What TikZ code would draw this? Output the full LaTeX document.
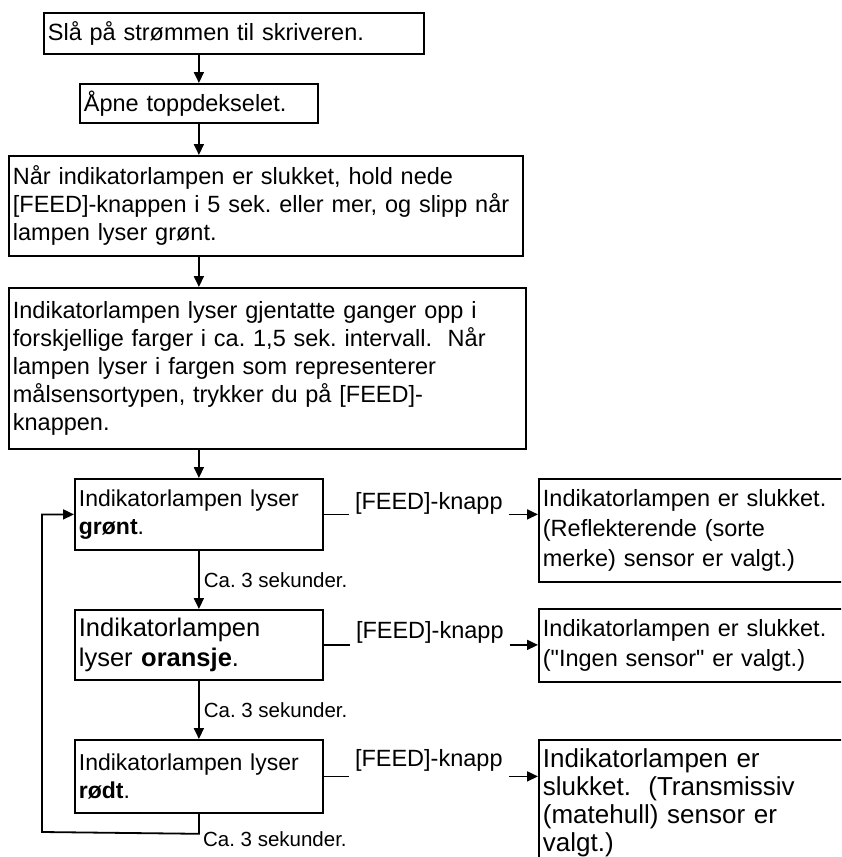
\documentclass[tikz,border=0pt]{standalone}
\usepackage{fontspec}
\setmainfont{Liberation Sans}
\usetikzlibrary{arrows.meta,positioning,calc}
\definecolor{FlowBlack}{HTML}{000000}
\definecolor{FlowWhite}{HTML}{ffffff}
\frenchspacing
\tikzset{
    % Base box style
    stepbox/.style={
        draw=FlowBlack,
        fill=FlowWhite,
        line width=1.8pt,
        anchor=north west,
        align=left,
        inner xsep=4pt,
        inner ysep=0pt,
        font=\fontsize{23.5}{28}\selectfont
    },
    % Lamp state box
    lampnode/.style={
        stepbox,
        text width=240pt,
        font=\fontsize{23}{28}\selectfont
    },
    % Result box
    resultnode/.style={
        stepbox,
        text width=312pt,
        font=\fontsize{23.5}{30}\selectfont
    },
    % Button label
    feedlabel/.style={
        font=\fontsize{23.5}{28}\selectfont,
        inner sep=6pt,
        anchor=base west
    },
    % Delay label
    timelabel/.style={
        font=\fontsize{20.5}{24}\selectfont,
        inner sep=4pt,
        anchor=west
    },
    % Arrow styles
    myarrow/.style={
        -{Triangle[length=11pt,width=10pt]},
        line width=1.8pt,
        draw=FlowBlack
    },
    myline/.style={
        line width=1.8pt,
        draw=FlowBlack
    }
}

\begin{document}
\begin{tikzpicture}[x=1pt,y=-1pt]
    \clip (0,0) rectangle (841,857);

    % main steps
    \node[stepbox, text width=372pt, minimum height=41pt] (power) at (43,12) {Slå på strømmen til skriveren.};
    \node[stepbox, text width=230pt, minimum height=39pt] (cover) at (79,83) {Åpne toppdekselet.};
    \node[stepbox, text width=506pt, minimum height=100pt] (hold) at (8,155) {Når indikatorlampen er slukket, hold nede\\{[FEED]}-knappen i 5 sek. eller mer, og slipp når\\lampen lyser grønt.};
    \node[stepbox, text width=509pt, minimum height=161pt] (cycle) at (8,287) {Indikatorlampen lyser gjentatte ganger opp i\\forskjellige farger i ca. 1,5 sek. intervall.\ \ Når\\lampen lyser i fargen som representerer\\målsensortypen, trykker du på [FEED]-\\knappen.};

    % lamp states
    \node[lampnode, minimum height=71pt] (green) at (74,478) {Indikatorlampen lyser\\\textbf{grønt}.};
    \node[lampnode, minimum height=70pt, font=\fontsize{25.5}{30}\selectfont] (orange) at (74,609) {Indikatorlampen\\lyser \textbf{oransje}.};
    \node[lampnode, minimum height=73pt] (red) at (74,739) {Indikatorlampen lyser\\\textbf{rødt}.};

    % results
    \node[resultnode, minimum height=103pt] (refl) at (538,478) {Indikatorlampen er slukket.\\(Reflekterende (sorte\\merke) sensor er valgt.)};
    \node[resultnode, minimum height=73pt] (none) at (538,608) {Indikatorlampen er slukket.\\(\textquotedbl Ingen sensor\textquotedbl\ er valgt.)};
    \node[resultnode, minimum height=126pt, font=\fontsize{26}{28}\selectfont] (trans) at (538,739) {Indikatorlampen er\\slukket.\ \ (Transmissiv\\(matehull) sensor er\\valgt.)};

    \draw[myarrow] (power.south -| cover.north) -- (cover.north);
    \draw[myarrow] (cover.south) -- (cover.south |- hold.north);
    \draw[myarrow] (hold.south -| cover.south) -- (cover.south |- cycle.north);
    \draw[myarrow] (cycle.south -| green.north) -- (green.north);
    \draw[myarrow] (green.south) -- node[timelabel] (wait1) {Ca. 3 sekunder.} (orange.north);
    \draw[myarrow] (orange.south) -- node[timelabel] (wait2) {Ca. 3 sekunder.} (red.north);

    % back to green
    \coordinate (turn) at ([yshift=-20pt]red.south);
    \coordinate (back) at (42,832);
    \draw[myarrow] (red.south) -- (turn) -- (back) |- (green.west);
    \node[timelabel] (wait3) at ([yshift=-5pt]turn) {Ca. 3 sekunder.};

    % [FEED] connectors
    \node[feedlabel] (feed1) at ([xshift=25pt,yshift=5pt]green.east) {[FEED]-knapp};
    \node[feedlabel] (feed2) at ([xshift=26pt,yshift=6pt]orange.east) {[FEED]-knapp};
    \node[feedlabel] (feed3) at ([xshift=25pt,yshift=10pt]red.east) {[FEED]-knapp};
    \draw[myline] (green.east) -- (green.east -| feed1.west);
    \draw[myarrow] (green.east -| feed1.east) -- (green.east -| refl.west);
    \draw[myline] (orange.east) -- (orange.east -| feed2.west);
    \draw[myarrow] (orange.east -| feed2.east) -- (orange.east -| none.west);
    \draw[myline] (red.east) -- (red.east -| feed3.west);
    \draw[myarrow] (red.east -| feed3.east) -- (red.east -| trans.west);
\end{tikzpicture}
\end{document}
